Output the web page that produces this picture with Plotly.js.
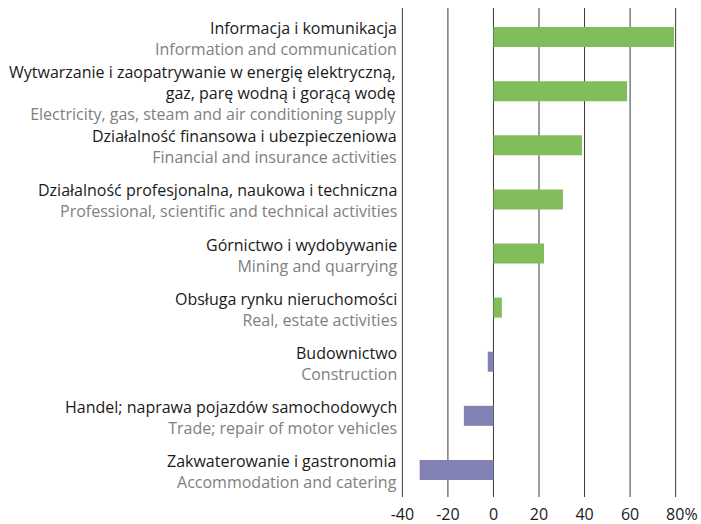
<!DOCTYPE html>
<html>
<head>
<meta charset="utf-8">
<script src="https://cdn.plot.ly/plotly-3.0.1.min.js"></script>
<style>html,body{margin:0;padding:0;background:#fff}#chart{width:701px;height:524px}</style>
</head>
<body>
<div id="chart"></div>
<script>
const categoriesPL = [
  ["Informacja i komunikacja"],
  ["Wytwarzanie i zaopatrywanie w energię elektryczną,", "gaz, parę wodną i gorącą wodę"],
  ["Działalność finansowa i ubezpieczeniowa"],
  ["Działalność profesjonalna, naukowa i techniczna"],
  ["Górnictwo i wydobywanie"],
  ["Obsługa rynku nieruchomości"],
  ["Budownictwo"],
  ["Handel; naprawa pojazdów samochodowych"],
  ["Zakwaterowanie i gastronomia"]
];
const categoriesEN = [
  "Information and communication",
  "Electricity, gas, steam and air conditioning supply",
  "Financial and insurance activities",
  "Professional, scientific and technical activities",
  "Mining and quarrying",
  "Real, estate activities",
  "Construction",
  "Trade; repair of motor vehicles",
  "Accommodation and catering"
];
const values = [79.3, 58.7, 38.9, 30.5, 22.2, 3.7, -2.5, -13.0, -32.4];
const xTickVals = [-40, -20, 0, 20, 40, 60, 80];
const xTickText = ["-40", "-20", "0", "20", "40", "60", "\u00a0\u00a0\u00a080%"];

const GREEN = "#82bd5b", PURPLE = "#8181b3";
const FONT = "Open Sans, sans-serif";
const ids = categoriesEN.map((_, i) => "c" + i);

const trace = {
  type: "bar",
  orientation: "h",
  x: values,
  y: ids,
  width: 0.37,
  marker: {color: values.map(v => v >= 0 ? GREEN : PURPLE), line: {width: 0}},
  hoverinfo: "x"
};

const annotations = ids.map((id, i) => ({
  x: 0, xref: "paper", xanchor: "right", xshift: -3,
  y: id, yref: "y", yanchor: "middle", yshift: -1.5,
  text: categoriesPL[i].join("<br>") + "<br><span style='color:#808080'>" + categoriesEN[i] + "</span>",
  showarrow: false, align: "right", borderpad: 0,
  font: {family: FONT, size: 16, color: "#1a1a1a"}
}));

const minTick = Math.min(...xTickVals), maxTick = Math.max(...xTickVals);
const gridShapes = xTickVals.map(v => ({
  type: "line",
  layer: (v === minTick || v === maxTick) ? "above" : "below",
  xref: "x", x0: v, x1: v,
  yref: "paper", y0: 0, y1: 1.004,
  line: {color: "#3a3a3a", width: 1}
}));

const layout = {
  width: 701, height: 524,
  margin: {l: 401, r: 24, t: 10, b: 27},
  paper_bgcolor: "#fff", plot_bgcolor: "#fff",
  showlegend: false,
  font: {family: FONT, color: "#1a1a1a"},
  xaxis: {
    range: [-40.6, 80.6],
    tickvals: xTickVals, ticktext: xTickText,
    showgrid: false,
    zeroline: false, showline: false,
    ticks: "", tickfont: {size: 16, color: "#1a1a1a"},
    ticklabelstandoff: 6,
    fixedrange: true
  },
  yaxis: {
    type: "category",
    autorange: "reversed",
    showticklabels: false,
    showgrid: false, zeroline: false, showline: false,
    ticks: "",
    fixedrange: true
  },
  shapes: gridShapes,
  annotations
};

Plotly.newPlot("chart", [trace], layout, {displayModeBar: false, staticPlot: true});
</script>
</body>
</html>
